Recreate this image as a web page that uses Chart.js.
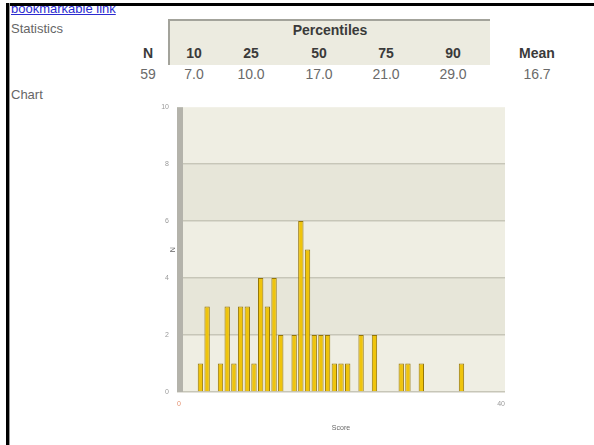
<!DOCTYPE html>
<html>
<head>
<meta charset="utf-8">
<script src="https://cdn.jsdelivr.net/npm/chart.js@4.4.1/dist/chart.umd.min.js"></script>
<style>
  body { margin: 0; width: 594px; height: 445px; overflow: hidden; background: #fff; position: relative;
         font-family: "Liberation Sans", Arial, sans-serif; }
  .frame-top { position: absolute; left: 6px; top: 3px; width: 588px; height: 3px; background: #000; }
  .frame-left { position: absolute; left: 6px; top: 3px; width: 3px; height: 442px; background: #000; }
  .frame-left:after { content: ""; position: absolute; left: 3px; top: 0; width: 1px; height: 100%; background: #999; }
  .linkbox { position: absolute; left: 11px; top: 6px; height: 11px; width: 200px; overflow: hidden; }
  .linkbox a { position: absolute; left: 0; top: -5px; font-size: 13px; color: #2b2bd0; text-decoration: underline; white-space: nowrap; }
  .section { position: absolute; left: 11px; font-size: 13px; color: #666; }
  .pbox { position: absolute; left: 168px; top: 19px; width: 320px; height: 44px; background: #ecebe0;
          border-top: 2px solid #a3a39b; border-left: 2px solid #a3a39b; }
  .cell { position: absolute; transform: translateX(-50%); white-space: nowrap; font-size: 14px; }
  .hdr { font-weight: bold; color: #3a3a3a; }
  .val { color: #6a6a6a; }
  #wrap { position: absolute; left: 150px; top: 95px; width: 370px; height: 345px; }
</style>
</head>
<body>
<div class="frame-top"></div>
<div class="frame-left"></div>
<div class="linkbox"><a href="#">bookmarkable link</a></div>
<div class="section" style="top:21px">Statistics</div>
<div class="section" style="top:87px">Chart</div>
<div class="pbox"></div>
<div id="table"></div>
<div id="wrap"><canvas id="chart" width="370" height="345"></canvas></div>
<script>
'use strict';

// histogram data: score bins and how many students got that score
const scores = [3, 4, 6, 7, 8, 9, 10, 11, 12, 13, 14, 15, 17, 18, 19, 20, 21, 22, 23, 24, 25, 27, 29, 33, 34, 36, 42];
const counts = [1, 3, 1, 3, 1, 3, 3, 1, 4, 3, 4, 2, 2, 6, 5, 2, 2, 2, 1, 1, 1, 2, 2, 1, 1, 1, 1];
const xTickLabels = ['0', '40'];

// statistics table
const statN = '59';
const statMean = '16.7';
const percentileLabels = ['10', '25', '50', '75', '90'];
const percentileValues = ['7.0', '10.0', '17.0', '21.0', '29.0'];

// table layout (column centres)
const nX = 148;
const percentileX = [194, 251, 319, 386, 453];
const meanX = 537;

function addCell(text, x, y, cls) {
  let el = document.createElement('span');
  el.className = 'cell ' + cls;
  el.style.left = x + 'px';
  el.style.top = y + 'px';
  el.textContent = text;
  document.getElementById('table').appendChild(el);
}

addCell('Percentiles', 330, 22, 'hdr');
addCell('N', nX, 45, 'hdr');
addCell('Mean', meanX, 45, 'hdr');
addCell(statN, nX, 66, 'val');
addCell(statMean, meanX, 66, 'val');
for (let i = 0; i < percentileLabels.length; i++) {
  addCell(percentileLabels[i], percentileX[i], 45, 'hdr');
  addCell(percentileValues[i], percentileX[i], 66, 'val');
}

// striped plot background + thick grey axis bar on the left
const plotBackground = {
  id: 'plotBackground',
  beforeDraw(chart) {
    let ctx = chart.ctx;
    let area = chart.chartArea;
    let y = chart.scales.y;
    ctx.save();
    for (let v = 0; v < 10; v += 2) {
      let top = y.getPixelForValue(v + 2);
      let bottom = y.getPixelForValue(v);
      ctx.fillStyle = (v / 2) % 2 === 0 ? '#efeee3' : '#e7e6d9';
      ctx.fillRect(area.left, top, area.right - area.left, bottom - top);
    }
    ctx.restore();
  },
  beforeDatasetsDraw(chart) {
    let ctx = chart.ctx;
    let area = chart.chartArea;
    ctx.save();
    ctx.fillStyle = '#b4b3ab';
    ctx.fillRect(area.left, area.top, 6, area.bottom - area.top);
    ctx.restore();
  }
};

Chart.defaults.font.family = '"Liberation Sans", Arial, sans-serif';

new Chart(document.getElementById('chart'), {
  type: 'bar',
  data: {
    datasets: [{
      data: scores.map((s, i) => ({ x: s, y: counts[i] })),
      backgroundColor: '#efc40c',
      borderColor: '#94760a',
      borderWidth: 1,
      barPercentage: 0.8,
      categoryPercentage: 1
    }]
  },
  options: {
    responsive: false,
    animation: false,
    layout: { padding: { top: 7, right: 15, left: 0, bottom: 0 } },
    plugins: { legend: { display: false }, tooltip: { enabled: false } },
    scales: {
      x: {
        type: 'linear',
        min: -0.5,
        max: 48.5,
        offset: false,
        afterBuildTicks(scale) {
          scale.ticks = [{ value: scale.min }, { value: scale.max }];
        },
        afterFit(scale) { scale.height = 48; },
        ticks: {
          autoSkip: false,
          maxRotation: 0,
          align: 'inner',
          padding: 8,
          font: { size: 7 },
          color: ctx => ctx.index === 0 ? '#e4906e' : '#9a9a9a',
          callback: (v, i) => xTickLabels[i]
        },
        grid: { display: false, drawTicks: false, offset: false },
        border: { display: false },
        title: { display: true, text: 'Score', font: { size: 7 }, color: '#666', padding: { top: 0, bottom: 8 } }
      },
      y: {
        min: 0,
        max: 10,
        afterFit(scale) { scale.width = 27; },
        ticks: { stepSize: 2, padding: 8, font: { size: 7 }, color: '#9a9a9a' },
        grid: {
          drawTicks: false,
          lineWidth: 1.5,
          color: ctx => ctx.tick && ctx.tick.value === 10 ? 'rgba(0,0,0,0)' : '#c7c6b8'
        },
        border: { display: false },
        title: { display: true, text: 'N', font: { size: 7 }, color: '#666', padding: { top: 19, bottom: 0 } }
      }
    }
  },
  plugins: [plotBackground]
});
</script>
</body>
</html>
